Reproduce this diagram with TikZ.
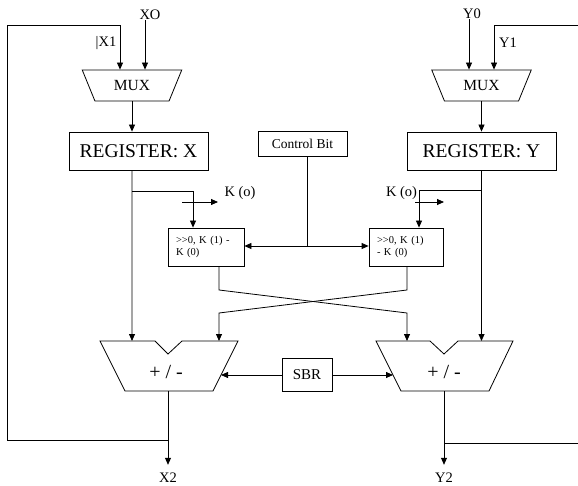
\documentclass[tikz,border=0pt]{standalone}
\usepackage{fontspec}
\setmainfont{Liberation Serif}
\usetikzlibrary{shapes.geometric,arrows.meta}

\begin{document}
\begin{tikzpicture}[x=1pt, y=-1pt, line width=0.8pt,
  >={Triangle[length=7pt,width=6pt]},
  box/.style={draw, rectangle, inner sep=0pt},
  muxbox/.style={draw, trapezium, trapezium left angle=121, trapezium right angle=121,
    trapezium stretches=true, minimum width=100pt, minimum height=31pt, inner sep=0pt,
    font=\fontsize{15.5}{15.5}\selectfont},
  regbox/.style={box, minimum height=38pt, font=\fontsize{19.5}{20}\selectfont},
  shiftbox/.style={draw, rectangle, minimum height=38pt, inner xsep=8pt, inner ysep=0pt,
    align=left, font=\fontsize{10.5}{12}\selectfont},
  lbl/.style={inner sep=0pt, font=\fontsize{14.5}{14.5}\selectfont},
  addtext/.style={inner sep=0pt, font=\fontsize{20}{20}\selectfont}]
\useasboundingbox (0,0) rectangle (578,486);

% inputs and muxes
\node[lbl] (x0) at (150,15) {XO};
\node[lbl] (x1) at (106,43) {|X1};
\node[lbl] (y0) at (472,14) {Y0};
\node[lbl] (y1) at (508,43) {Y1};
\node[muxbox] (muxl) at (132,85.5) {MUX};
\node[muxbox] (muxr) at (481.5,85.5) {MUX};

% registers, control, shifters
\node[regbox, minimum width=139pt] (regx) at (138.5,151) {REGISTER: X};
\node[regbox, minimum width=149pt] (regy) at (481.5,151) {REGISTER: Y};
\node[box, minimum width=89pt, minimum height=25pt, font=\fontsize{13.5}{13.5}\selectfont] (ctrl) at (302.5,143.5) {Control Bit};
\node[shiftbox, text width=60pt] (shl) at (206,247) {\mbox{\mbox{>}\mbox{>}0, K (1) -}\\K (0)};
\node[shiftbox, text width=58pt] (shr) at (406,247) {\mbox{\mbox{>}\mbox{>}0, K (1)}\\- K (0)};
\node[lbl] (kol) at (240,193) {K (o)};
\node[lbl] (kor) at (401.5,193) {K (o)};

% adders
\draw (100,341) -- (155,341) -- (168,354) -- (182,341) -- (238,341) -- (213,391) -- (125,391) -- cycle;
\draw (376,341) -- (430,341) -- (444,354) -- (458,341) -- (513,341) -- (489,391) -- (401,391) -- cycle;
\node[addtext] (addl) at (166,372) {+ / -};
\node[addtext] (addr) at (444,372) {+ / -};
\coordinate (addl-a) at (132,341);
\coordinate (addl-b) at (219,341);
\coordinate (addl-s) at (221,375);
\coordinate (addl-out) at (168,391);
\coordinate (addr-a) at (407,341);
\coordinate (addr-b) at (481.5,341);
\coordinate (addr-s) at (393,375);
\coordinate (addr-out) at (444,391);
\node[box, minimum width=50pt, minimum height=33pt, font=\fontsize{15}{15}\selectfont] (sbr) at (307,375) {SBR};
\node[lbl] (x2) at (168,478) {X2};
\node[lbl] (y2) at (444,478) {Y2};

% mux inputs
\draw[->] ([xshift=13pt]muxl.north |- x0.south) -- ([xshift=13pt]muxl.north);
\draw[->] ([xshift=-12.5pt]muxr.north |- y0.south) -- ([xshift=-12.5pt]muxr.north);
\coordinate (fbl) at (168,440);
\coordinate (fbr) at (444,443);
\draw[->] (fbl) -| (7,25) -| ([xshift=-12pt]muxl.north);
\draw[->] (578,25) -| ([xshift=12.5pt]muxr.north);
\draw[] (fbr) -- (578,443);

% register paths
\draw[->] (muxl.south) -- (muxl.south |- regx.north);
\draw[->] (muxr.south) -- (muxr.south |- regy.north);
\draw[->] (muxl.south |- regx.south) -- (addl-a);
\draw[->] (muxr.south |- regy.south) -- (addr-b);
\draw[->] (muxl.south |- 0,191) -| ([xshift=-13pt]shl.north);
\draw[->] (muxr.south |- 0,190) -| ([xshift=13pt]shr.north);
\draw[->] (182,202) -- (218,202);
\draw[->] (415,202) -- (444,202);

% control bit
\coordinate (cj) at (307,246);
\draw[] (ctrl.south -| cj) -- (cj);
\draw[->] (cj) -- (cj -| shl.east);
\draw[->] (cj) -- (cj -| shr.west);

% crossing
\draw[->] (shl.south -| addl-b) -- (addl-b |- 0,290) -- (addr-a |- 0,313) -- (addr-a);
\draw[->] (shr.south -| addr-a) -- (addr-a |- 0,290) -- (addl-b |- 0,313) -- (addl-b);

% sbr and outputs
\draw[->] (sbr.west) -- (addl-s);
\draw[->] (sbr.east) -- (addr-s);
\draw[->] (addl-out) -- ([yshift=8pt]x2.north);
\draw[->] (addr-out) -- ([yshift=8pt]y2.north);

\end{tikzpicture}
\end{document}
